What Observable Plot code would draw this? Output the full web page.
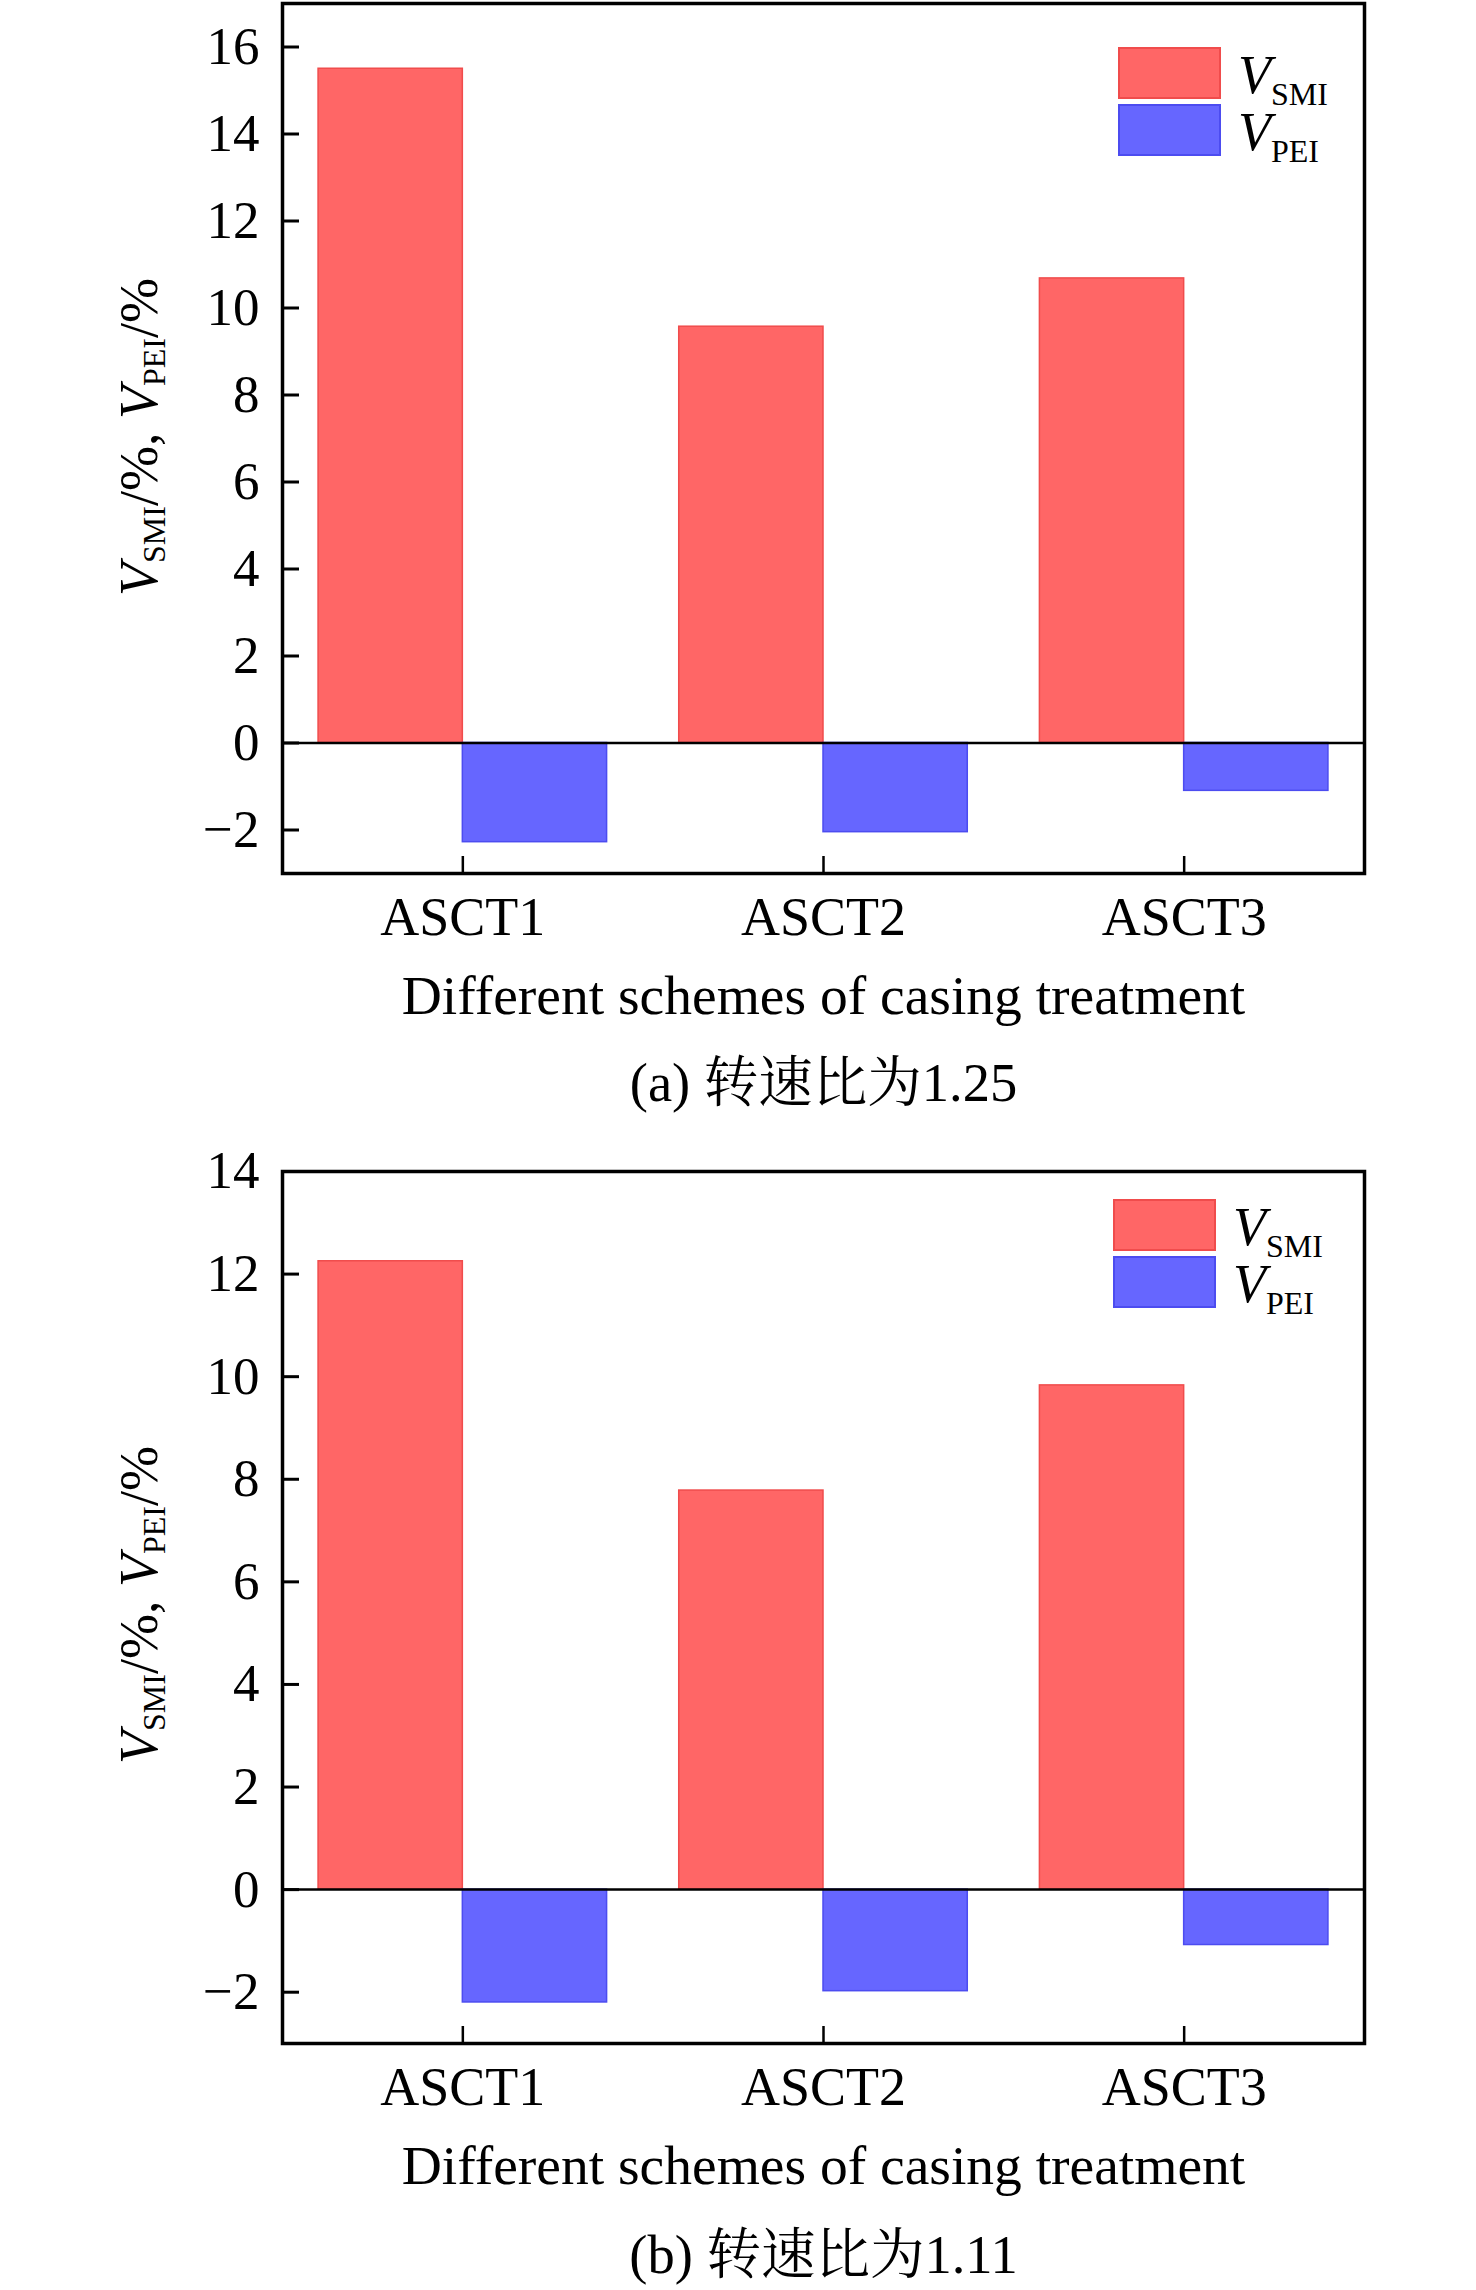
<!DOCTYPE html>
<html><head><meta charset="utf-8">
<script src="https://cdn.jsdelivr.net/npm/d3@7"></script>
<script src="https://cdn.jsdelivr.net/npm/@observablehq/plot@0.6"></script>
<style>
body{margin:0;background:#fff;}
#wrap{position:relative;width:1476px;height:2290px;overflow:hidden;background:#fff;}
#wrap svg{position:absolute;left:0;}
</style></head><body><div id="wrap"></div>
<script>
const schemes = ["ASCT1", "ASCT2", "ASCT3"];
const smiA = [15.5, 9.57, 10.68];
const peiA = [-2.28, -2.05, -1.1];
const smiB = [12.25, 7.78, 9.83];
const peiB = [-2.2, -1.98, -1.08];
const yTicksA = [-2, 0, 2, 4, 6, 8, 10, 12, 14, 16];
const yTicksB = [-2, 0, 2, 4, 6, 8, 10, 12, 14];
const xLabel = "Different schemes of casing treatment";
const captionA = "(a) 转速比为1.25";
const captionB = "(b) 转速比为1.11";

const FONT = "'Liberation Serif', 'Times New Roman', 'Noto Serif CJK SC', 'Noto Sans CJK SC', serif";
const RED = "#ff6666", RED_S = "#f04c4c", BLUE = "#6666ff", BLUE_S = "#4c4cf0";
const fmt = d3.format("d");

function makePanel({smi, pei, yDomain, yTicks, top, mt, plotH, height, caption, capDy, legend}) {
  const ml = 282, mr = 112, mb = height - mt - plotH;
  const smiData = schemes.map((s, i) => ({s, x1: i + 1 - 0.4, x2: i + 1, v: smi[i]}));
  const peiData = schemes.map((s, i) => ({s, x1: i + 1, x2: i + 1 + 0.4, v: pei[i]}));
  const svg = Plot.plot({
    width: 1476, height, marginTop: mt, marginLeft: ml, marginRight: mr, marginBottom: mb,
    style: {fontFamily: FONT, fontSize: "53px", background: "white", color: "black", overflow: "visible"},
    x: {type: "linear", domain: [0.5, 3.5]},
    y: {domain: yDomain},
    marks: [
      Plot.rectY(smiData, {x1: "x1", x2: "x2", y1: 0, y2: "v", fill: RED, stroke: RED_S, strokeWidth: 1.5}),
      Plot.rectY(peiData, {x1: "x1", x2: "x2", y1: 0, y2: "v", fill: BLUE, stroke: BLUE_S, strokeWidth: 1.5}),
      Plot.ruleY([0], {stroke: "black", strokeWidth: 2.5}),
      Plot.axisY(yTicks, {anchor: "left", tickSize: -17, tickPadding: 40, strokeWidth: 3, tickFormat: fmt, label: null}),
      Plot.axisX([1, 2, 3], {anchor: "bottom", tickSize: -17, tickPadding: 40, strokeWidth: 2.5, fontSize: 54, tickFormat: d => schemes[d - 1], label: null}),
      Plot.frame({stroke: "black", strokeWidth: 3.5}),
      Plot.text([xLabel], {frameAnchor: "bottom", dy: 140, lineAnchor: "bottom", fontSize: 55.5}),
      Plot.text([caption], {frameAnchor: "bottom", dy: capDy, lineAnchor: "bottom", fontSize: 54.5})
    ]
  });
  svg.style.top = top + "px";
  const g = d3.select(svg).append("g").attr("font-family", FONT).attr("fill", "black");
  // legend
  const [lx, ly] = legend;
  const items = [["SMI", RED, RED_S], ["PEI", BLUE, BLUE_S]];
  items.forEach(([name, f, s], k) => {
    const y0 = ly + k * 57;
    g.append("rect").attr("x", lx).attr("y", y0).attr("width", 101).attr("height", 50)
      .attr("fill", f).attr("stroke", s).attr("stroke-width", 2);
    const t = g.append("text").attr("x", lx + 119).attr("y", y0 + 45)
      .attr("font-size", 54).attr("text-anchor", "start");
    t.append("tspan").attr("font-style", "italic").text("V");
    t.append("tspan").attr("font-size", 32).attr("dy", 12).text(name);
  });
  // y label
  const t = g.append("text")
    .attr("transform", `translate(157, ${mt + 434}) rotate(-90)`)
    .attr("text-anchor", "middle").attr("font-size", 54);
  t.append("tspan").attr("font-style", "italic").text("V");
  t.append("tspan").attr("font-size", 32).attr("dy", 8).text("SMI");
  t.append("tspan").attr("dy", -8).text("/%, ");
  t.append("tspan").attr("font-style", "italic").text("V");
  t.append("tspan").attr("font-size", 32).attr("dy", 8).text("PEI");
  t.append("tspan").attr("dy", -8).text("/%");
  return svg;
}

const wrap = document.getElementById("wrap");
wrap.appendChild(makePanel({smi: smiA, pei: peiA, yDomain: [-3, 17], yTicks: yTicksA,
  top: 0, mt: 3, plotH: 870, height: 1140, caption: captionA, capDy: 227, legend: [1119, 48]}));
wrap.appendChild(makePanel({smi: smiB, pei: peiB, yDomain: [-3, 14], yTicks: yTicksB,
  top: 1140, mt: 31, plotH: 872, height: 1150, caption: captionB, capDy: 229, legend: [1114, 60]}));
</script></body></html>
